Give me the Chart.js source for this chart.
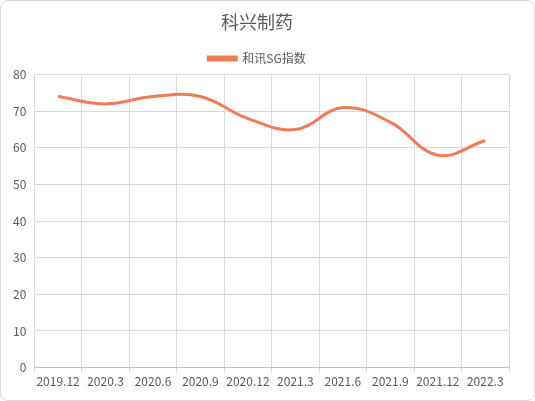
<!DOCTYPE html><html><head><meta charset="utf-8">
<script src="https://cdn.jsdelivr.net/npm/chart.js@4"></script>
<style>html,body{margin:0;padding:0;background:#fff}
#w{position:absolute;left:0;top:0;width:533px;height:399px;border:1px solid #d9d9d9;border-radius:8px;overflow:hidden}
</style></head><body><div id="w"><canvas id="c" width="533" height="399"></canvas></div>
<script>
const categories=["2019.12","2020.3","2020.6","2020.9","2020.12","2021.3","2021.6","2021.9","2021.12","2022.3"];
const sgIndex=[74,72,74,74,68,65,71,67,58,62];
const seriesName="和讯SG指数";
const F="'Microsoft YaHei','Noto Sans CJK SC',sans-serif";
new Chart(document.getElementById('c'),{type:'line',
data:{labels:categories,datasets:[{label:seriesName,data:sgIndex,borderColor:'#f07c56',backgroundColor:'#f07c56',borderWidth:3,pointRadius:0,tension:0.4}]},
options:{responsive:false,animation:false,
layout:{padding:{left:4,right:25,top:0,bottom:9}},
plugins:{title:{display:true,text:'科兴制药',color:'#595959',font:{family:F,size:18,weight:'normal'},padding:{top:10,bottom:10}},
legend:{labels:{boxWidth:28,boxHeight:3,color:'#595959',font:{family:F,size:12},padding:10},padding:0},tooltip:{enabled:false}},
scales:{x:{offset:true,grid:{offset:true,color:'#d9d9d9',drawTicks:true,tickLength:5},border:{color:'#bfbfbf'},ticks:{color:'#595959',font:{family:F,size:12},maxRotation:0,autoSkip:false,padding:2}},
y:{min:0,max:80,ticks:{stepSize:10,color:'#595959',font:{family:F,size:12},padding:8},grid:{color:'#d9d9d9',drawTicks:false},border:{display:false}}}}});
</script></body></html>
